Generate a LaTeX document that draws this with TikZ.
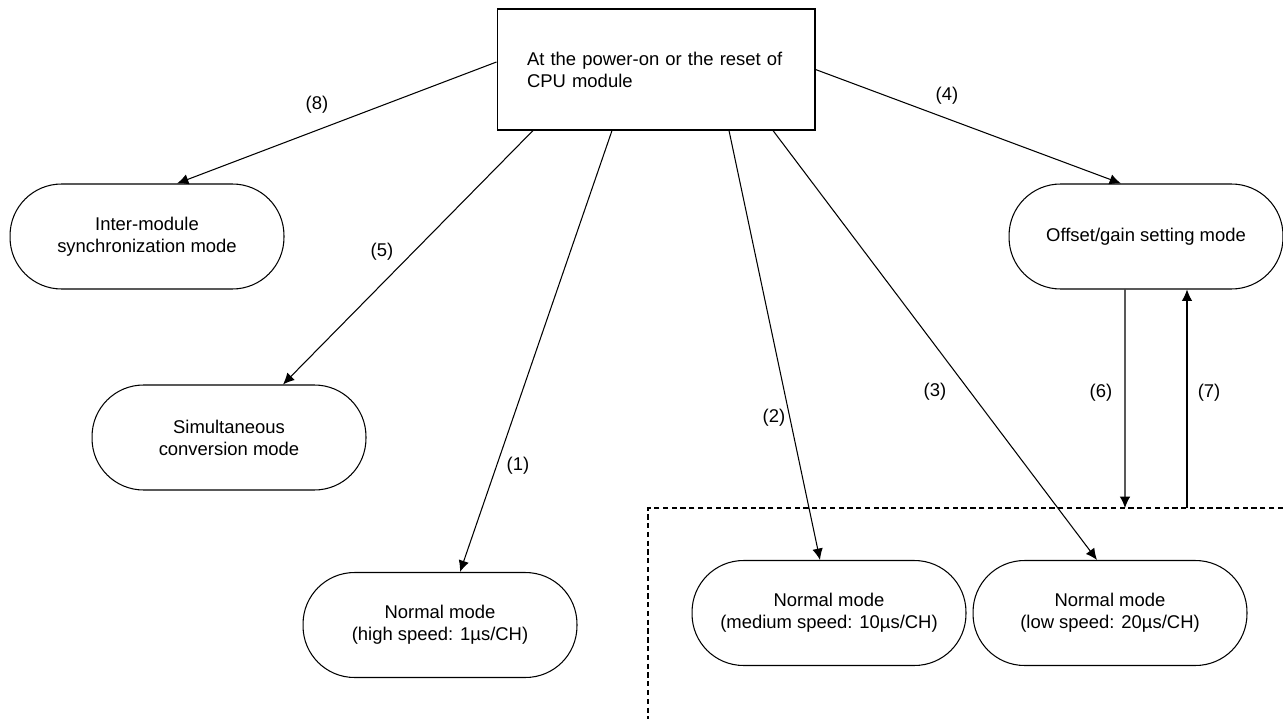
\documentclass[tikz,border=0pt]{standalone}
\usepackage{fontspec}
\setmainfont{Liberation Sans}
\usetikzlibrary{arrows.meta}
\tikzset{mode/.style={draw, line width=0.6pt, rounded corners=1.03cm,
            minimum width=5.48cm, minimum height=2.1cm, align=center},
         trans/.style={-{Latex[length=6.5pt,width=6pt]}, line width=0.6pt},
         group/.style={line width=0.6pt, dash pattern=on 3pt off 2pt}
}

\begin{document}
\begin{tikzpicture}[x=0.02cm, y=-0.02cm, font=\fontsize{10.5}{12.5}\selectfont]
\useasboundingbox (0,0) rectangle (1283,719);

\node[draw, line width=0.6pt, minimum width=6.36cm, minimum height=2.42cm,
      text width=5.16cm, align=left, inner sep=0pt] (cpu) at (656,69.5)
      {At the power-on or the reset of\\CPU module};

\node[mode] (inter) at (147,236.5) {Inter-module\\synchronization mode};
\node[mode] (simul) at (229,437.5) {Simultaneous\\conversion mode};
\node[mode] (ofs) at (1146,236.5) {Offset/gain setting mode};
\node[mode] (high) at (440,625) {Normal mode\\(high speed: 1µs/CH)};
\node[mode] (medium) at (829,613) {Normal mode\\(medium speed: 10µs/CH)};
\node[mode] (low) at (1110,613) {Normal mode\\(low speed: 20µs/CH)};

% dashed frame round the medium/low speed modes
\coordinate (grp) at (648,508);
\coordinate (in6) at (1125,508);
\coordinate (out7) at (1187,508);
\draw[group] (1283,508) -- (grp) -- (648,719);

\draw[trans] ([yshift=0.15cm]cpu.west) -- ([xshift=0.6cm]inter.north);
\draw[trans] ([xshift=-2.46cm]cpu.south) -- ([xshift=1.08cm]simul.north);
\draw[trans] ([xshift=-0.88cm]cpu.south) -- ([xshift=0.4cm]high.north);
\draw[trans] ([xshift=1.46cm]cpu.south) -- ([xshift=-0.18cm]medium.north);
\draw[trans] ([xshift=2.34cm]cpu.south) -- ([xshift=-0.26cm]low.north);
\draw[trans] (cpu.east) -- ([xshift=-0.5cm]ofs.north);
\draw[trans] ([xshift=-0.42cm]ofs.south) -- (in6);
\draw[trans] (out7) -- (ofs.south -| out7);

\node (l1) at (518,466) {(1)};
\node (l2) at (774,418) {(2)};
\node (l3) at (935,392) {(3)};
\node (l4) at (947,96) {(4)};
\node (l5) at (382,252) {(5)};
\node (l6) at (1101,393) {(6)};
\node (l7) at (1209,393) {(7)};
\node (l8) at (317,105) {(8)};

\end{tikzpicture}
\end{document}
